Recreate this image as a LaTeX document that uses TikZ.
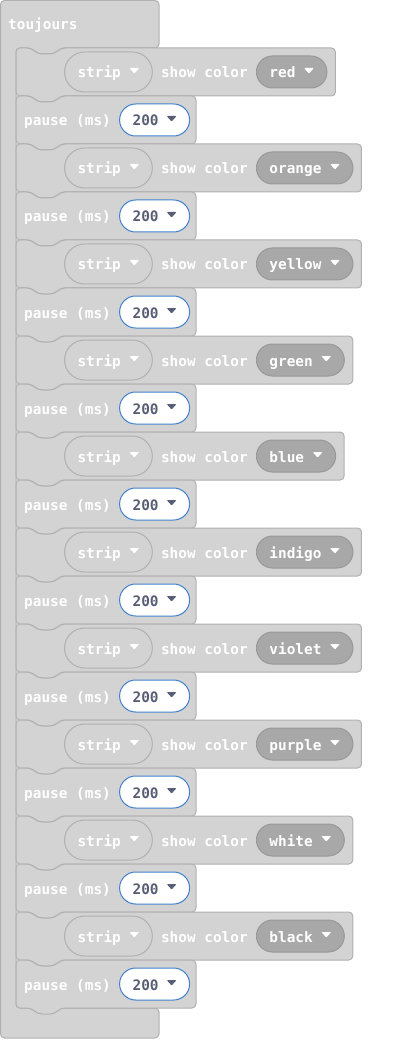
\documentclass[tikz,border=0pt]{standalone}
\usepackage{fontspec}
\setmonofont{DejaVu Sans Mono}
\usetikzlibrary{positioning,calc}
\pgfdeclarelayer{background}
\pgfsetlayers{background,main}
\definecolor{blockfill}{RGB}{211,211,211}
\definecolor{blockline}{RGB}{176,176,176}
\definecolor{menufill}{RGB}{168,168,168}
\definecolor{menuline}{RGB}{152,152,152}
\definecolor{numline}{RGB}{66,128,206}
\definecolor{numtext}{RGB}{87,94,117}
\newcommand{\droparrow}[1]{\tikz[baseline=0pt,x=1pt,y=1pt]\fill[#1,rounded corners=1pt] (0,10)--(10,10)--(5,4.5)--cycle;}
\tikzset{
  block/.style={draw=blockline, fill=blockfill, line width=1pt, rounded corners=4pt},
  lbl/.style={text=white, inner sep=0pt, text height=12pt, text depth=0pt,
    font=\ttfamily\bfseries\fontsize{14.4pt}{16pt}\selectfont},
  strippill/.style={lbl, draw=blockline, fill=blockfill, line width=1pt,
    minimum height=40pt, rounded corners=20pt, inner xsep=13pt},
  colorpill/.style={lbl, draw=menuline, fill=menufill, line width=1pt,
    minimum height=32pt, rounded corners=16pt, inner xsep=13pt},
  numpill/.style={lbl, text=numtext, draw=numline, fill=white, line width=1pt,
    minimum height=32pt, rounded corners=16pt, inner xsep=13pt}
}
\begin{document}
\begin{tikzpicture}[x=1pt,y=1pt]
        \useasboundingbox (0,0) rectangle (412,-1040);

        % Outer toujours block
        \begin{pgfonlayer}{background}
        \draw[block] (0.5,-48) -- (0.5,-0.5) -- (159,-0.5) -- (159,-48) -- (61,-48) -- (54,-54)
            -- (38,-54) -- (31,-48) -- (16,-48) -- (16,-1008) -- (159,-1008) -- (159,-1038)
            -- (0.5,-1038) -- cycle;
        \end{pgfonlayer}
        \node[lbl, anchor=west] (head) at (8,-24) {toujours};

        % One strip row and one pause row per colour
        \foreach \col [count=\i from 0] in {red,orange,yellow,green,blue,indigo,violet,purple,white,black}{
            \pgfmathsetmacro\yt{-48-96*\i}
            % strip show color
            \node[strippill, anchor=west] (s\i) at (64,\yt-24) {strip\hspace{8.5pt}\droparrow{white}};
            \node[lbl, right=8pt of s\i] (t\i) {show color};
            \node[colorpill, right=8pt of t\i] (c\i) {\col\hspace{8.5pt}\droparrow{white}};
            \begin{pgfonlayer}{background}
            \draw[block] let \p1=(c\i.east) in (16,\yt-48) -- (16,\yt) -- (31,\yt) -- (38,\yt-6)
                -- (54,\yt-6) -- (61,\yt) -- (\x1+8pt,\yt) -- (\x1+8pt,\yt-48) -- (61,\yt-48)
                -- (54,\yt-54) -- (38,\yt-54) -- (31,\yt-48) -- cycle;
            \end{pgfonlayer}
            % pause (ms)
            \node[lbl, anchor=west] (p\i) at (24,\yt-72) {pause (ms)};
            \node[numpill, right=8pt of p\i] (n\i) {200\hspace{8pt}\droparrow{numtext}};
            \begin{pgfonlayer}{background}
            \draw[block] (16,\yt-96) -- (16,\yt-48) -- (31,\yt-48) -- (38,\yt-54) -- (54,\yt-54)
                -- (61,\yt-48) -- (196,\yt-48) -- (196,\yt-96) -- (61,\yt-96) -- (54,\yt-102)
                -- (38,\yt-102) -- (31,\yt-96) -- cycle;
            \end{pgfonlayer}
        }
    \end{tikzpicture}
\end{document}
